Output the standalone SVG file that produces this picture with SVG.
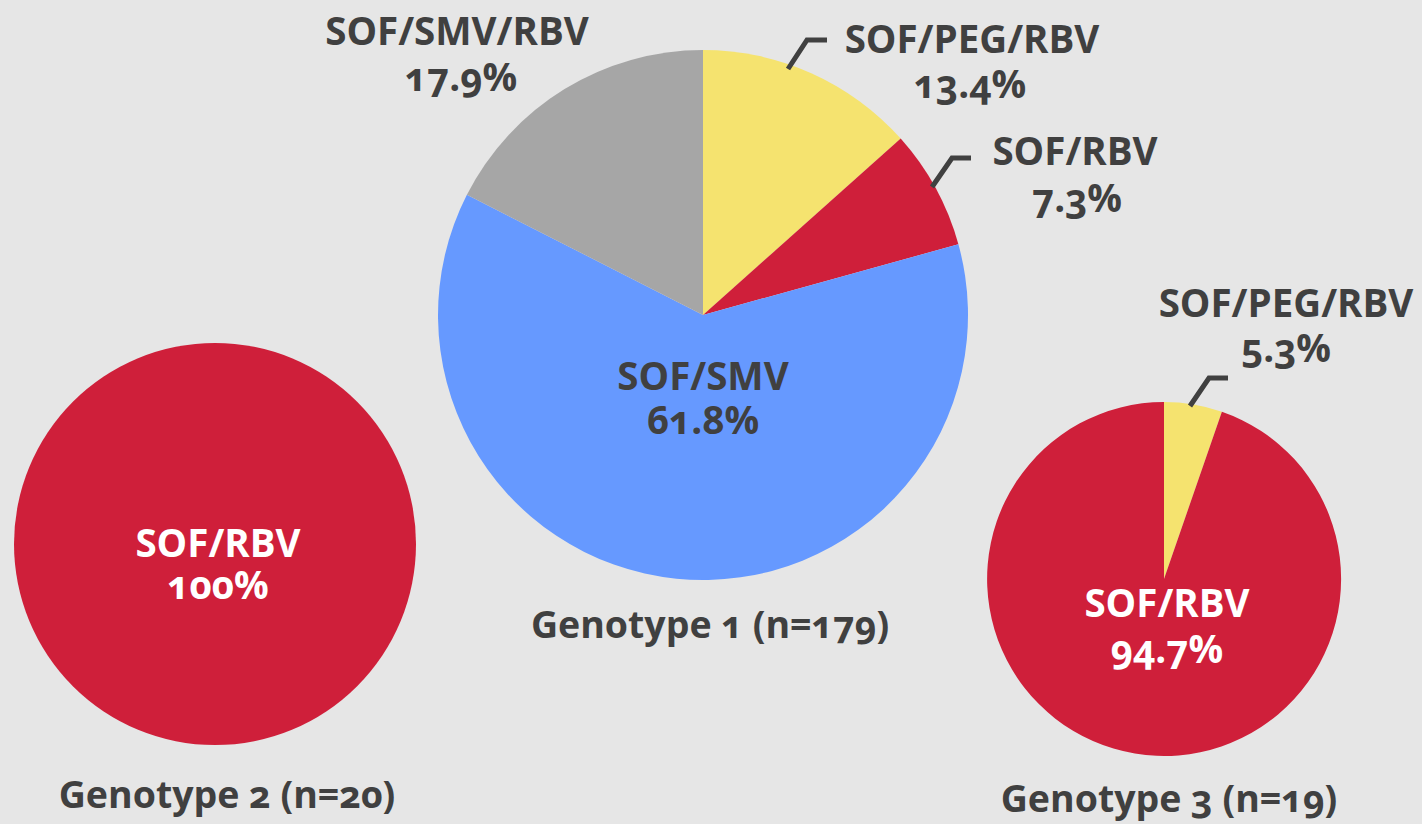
<svg xmlns="http://www.w3.org/2000/svg" width="1422" height="824" viewBox="0 0 1422 824">
<style>
text{font-family:"Open Sans","Liberation Sans",sans-serif;font-weight:700;font-size:38.5px;text-anchor:middle;fill:#404040;font-variant-numeric:oldstyle-nums}
text.t{font-size:37.5px}
.w{fill:#ffffff}
.ld{fill:none;stroke:#404040;stroke-width:5}
.y{fill:#f5e36f}.r{fill:#cf1f3a}.b{fill:#6699ff}.g{fill:#a6a6a6}
</style>
<rect width="1422" height="824" fill="#e6e6e6"/>
<g id="pie-genotype1">
<path class="y" d="M703,315 L703,50 A265,265 0 0 1 900.7,138.6 Z"/>
<path class="r" d="M703,315 L900.7,138.6 A265,265 0 0 1 958.4,244.3 Z"/>
<path class="b" d="M703,315 L958.4,244.3 A265,265 0 1 1 466.9,194.7 Z"/>
<path class="g" d="M703,315 L466.9,194.7 A265,265 0 0 1 703,50 Z"/>
<text x="703" y="390">SOF/SMV</text>
<text x="703" y="434">61.8%</text>
<text x="457" y="45">SOF/SMV/RBV</text>
<text x="461" y="91">17.9%</text>
<text x="972" y="53">SOF/PEG/RBV</text>
<text x="970" y="98">13.4%</text>
<text x="1075" y="165">SOF/RBV</text>
<text x="1077" y="212">7.3%</text>
<text class="t" x="710" y="638">Genotype 1 (n=179)</text>
</g>
<g id="pie-genotype2">
<circle class="r" cx="215" cy="544" r="201"/>
<text class="w" x="218" y="557">SOF/RBV</text>
<text class="w" x="218" y="599">100%</text>
<text class="t" x="227" y="808">Genotype 2 (n=20)</text>
</g>
<g id="pie-genotype3">
<path class="y" d="M1164,579 L1164,402 A177,177 0 0 1 1221.9,411.7 Z"/>
<path class="r" d="M1164,579 L1221.9,411.7 A177,177 0 1 1 1164,402 Z"/>
<text x="1286" y="317">SOF/PEG/RBV</text>
<text x="1286" y="362">5.3%</text>
<text class="w" x="1167" y="617">SOF/RBV</text>
<text class="w" x="1167" y="663">94.7%</text>
<text class="t" x="1169" y="812">Genotype 3 (n=19)</text>
</g>
<g id="connectors">
<polyline class="ld" points="788,69 807,40 827,40"/>
<polyline class="ld" points="932,187 952,158 971,158"/>
<polyline class="ld" points="1190,406 1209,378 1228,378"/>
</g>
</svg>
